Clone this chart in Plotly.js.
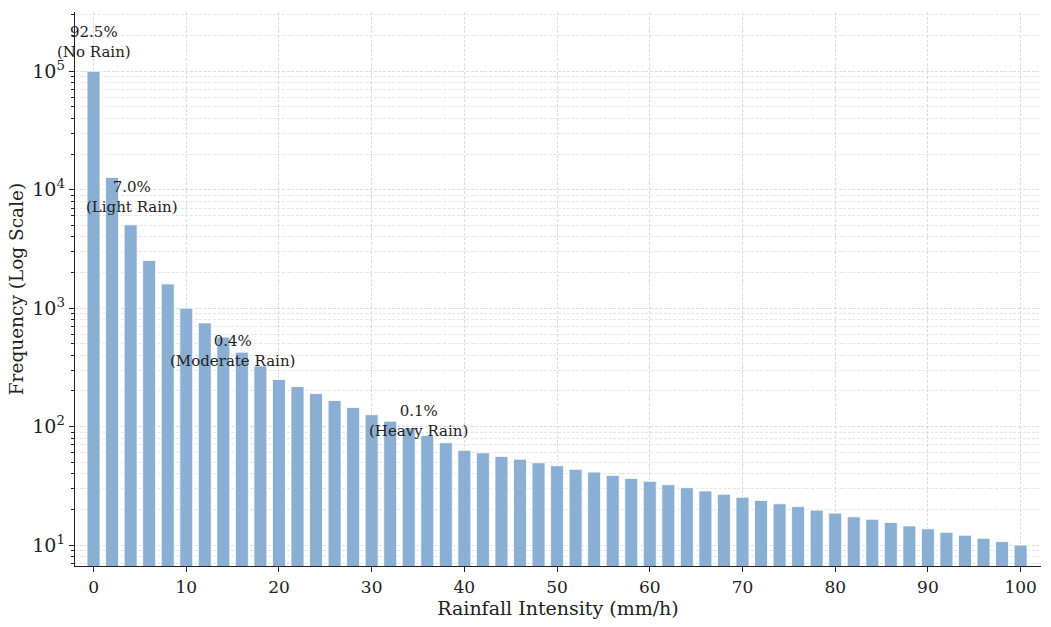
<!DOCTYPE html>
<html>
<head>
<meta charset="utf-8">
<script src="https://cdn.plot.ly/plotly-3.0.1.min.js"></script>
<style>
  body { margin: 0; background: #fff; }
  #chart { width: 1051px; height: 627px; }
</style>
</head>
<body>
<div id="chart"></div>
<script>
// rainfall intensity bins (mm/h) and counts
const intensity = [0, 2, 4, 6, 8, 10, 12, 14, 16, 18, 20, 22, 24, 26, 28, 30, 32, 34, 36, 38, 40,
  42, 44, 46, 48, 50, 52, 54, 56, 58, 60, 62, 64, 66, 68, 70, 72, 74, 76, 78, 80,
  82, 84, 86, 88, 90, 92, 94, 96, 98, 100];
const frequency = [100000, 12700, 5050, 2530, 1600, 1000, 750, 570, 425, 325, 250, 218, 190, 166, 145, 126, 111, 97, 84, 73, 63,
  60, 56, 53, 49.5, 46.7, 43.6, 41.3, 38.7, 36.5, 34.5, 32.3, 30.5, 28.6, 26.9, 25.3, 23.8, 22.3, 21.1, 19.7, 18.6,
  17.3, 16.5, 15.5, 14.5, 13.7, 12.8, 12.1, 11.4, 10.7, 10];

// category labels and where they sit (x in mm/h, y in log10 units)
const labelText = ['92.5%<br>(No Rain)', '7.0%<br>(Light Rain)', '0.4%<br>(Moderate Rain)', '0.1%<br>(Heavy Rain)'];
const labelX = [0, 4.1, 15, 35];
const labelY = [5.245, 3.937, 2.637, 2.046];

const xTicks = [0, 10, 20, 30, 40, 50, 60, 70, 80, 90, 100];
const yTicks = [10, 100, 1000, 10000, 100000];
const yTickText = ['10<sup>1</sup>', '10<sup>2</sup>', '10<sup>3</sup>', '10<sup>4</sup>', '10<sup>5</sup>'];

// minor ticks 2..9 in every decade
let yMinor = [];
for (let d = 1; d <= 100000; d *= 10) {
  for (let m = 2; m <= 9; m++) yMinor.push(m * d);
}

const font = 'DejaVu Serif, serif';
const dash = '3px,1.6px';

const trace = {
  x: intensity,
  y: frequency,
  type: 'bar',
  width: 1.4,
  marker: { color: 'rgb(139,175,210)', line: { color: 'rgba(255,255,255,0.8)', width: 1 } },
  hoverinfo: 'x+y'
};

const annotations = labelText.map((t, i) => ({
  x: labelX[i], y: labelY[i], xref: 'x', yref: 'y',
  text: t, showarrow: false,
  font: { family: font, size: 15, color: '#222' },
  align: 'center'
}));

const layout = {
  width: 1051, height: 627,
  margin: { l: 75, r: 10, t: 12, b: 61 },
  paper_bgcolor: '#fff', plot_bgcolor: '#fff',
  font: { family: font, color: '#222' },
  bargap: 0,
  showlegend: false,
  xaxis: {
    range: [-2, 102.2],
    tickmode: 'array', tickvals: xTicks,
    ticks: 'outside', ticklen: 5, tickcolor: '#222',
    tickfont: { family: font, size: 17, color: '#222' },
    showline: true, linecolor: '#222', linewidth: 1.3,
    showgrid: true, gridcolor: '#d3d3d3', griddash: dash, gridwidth: 0.8,
    zeroline: false,
    title: { text: 'Rainfall Intensity (mm/h)', font: { family: font, size: 19, color: '#222' }, standoff: 4 }
  },
  yaxis: {
    type: 'log',
    range: [0.823, 5.5],
    tickmode: 'array', tickvals: yTicks, ticktext: yTickText,
    ticks: 'outside', ticklen: 5, tickcolor: '#222',
    tickfont: { family: font, size: 19, color: '#222' },
    showline: true, linecolor: '#222', linewidth: 1.3,
    showgrid: true, gridcolor: '#d3d3d3', griddash: dash, gridwidth: 0.8,
    zeroline: false,
    minor: { tickmode: 'array', tickvals: yMinor, ticks: 'outside', ticklen: 3, tickcolor: '#222',
      showgrid: true, gridcolor: '#dcdcdc', griddash: dash, gridwidth: 0.7 },
    title: { text: 'Frequency (Log Scale)', font: { family: font, size: 18.5, color: '#222' }, standoff: 3 }
  },
  annotations: annotations
};

Plotly.newPlot('chart', [trace], layout, { displayModeBar: false, staticPlot: true });
</script>
</body>
</html>
